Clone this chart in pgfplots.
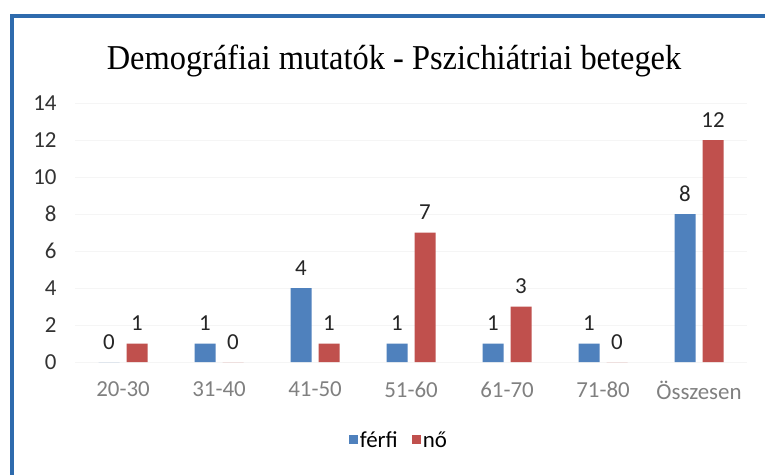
\documentclass[border=0pt]{standalone}
\usepackage{fontspec}
\setmainfont{Carlito}
\newfontfamily\titlefont{Liberation Serif}
\usepackage{graphicx}
\usepackage{pgfplots}
\pgfplotsset{compat=1.18}
\definecolor{barblue}{HTML}{4F81BD}
\definecolor{barred}{HTML}{C0504D}
\definecolor{frameblue}{HTML}{2E6BAD}
\begin{document}
\begin{tikzpicture}[x=1bp,y=1bp]
\path[use as bounding box] (0,0) rectangle (765,-475);
\fill[white] (0,0) rectangle (765,-475);
\draw[frameblue, line width=4bp] (12,-485) -- (12,-16) -- (775,-16);
\node[anchor=base, inner sep=0] at (394,-70) {\scalebox{0.93}[1]{\titlefont\fontsize{35}{40}\selectfont Demográfiai mutatók - Pszichiátriai betegek}};
\begin{axis}[
  at={(75bp,-362bp)}, anchor=south west,
  width=672bp, height=259bp, scale only axis,
  xmin=-0.5, xmax=6.5, ymin=0, ymax=14,
  ybar, bar width=21bp,
  axis line style={draw=none},
  major tick length=0pt,
  ytick={0,2,...,14},
  ymajorgrids, grid style={black!4},
  xtick={0,...,6},
  xticklabels={20-30,31-40,41-50,51-60,61-70,71-80,Összesen},
  /pgf/number format/assume math mode=true,
  tick label style={font=\fontsize{23}{26}\selectfont},
  xticklabel style={text=black!50, yshift=-16bp},
  yticklabel style={text=black!80, xshift=-15bp},
  nodes near coords,
  every node near coord/.append style={font=\fontsize{23}{26}\selectfont, text=black!85, yshift=9bp},
  legend style={at={(0.482,-0.301)}, anchor=center, draw=none, fill=none,
    legend columns=2, font=\fontsize{23}{26}\selectfont,
    /tikz/every odd column/.append style={column sep=0bp},
    /tikz/every even column/.append style={column sep=12bp}},
  legend image code/.code={\fill[#1] (0bp,-4bp) rectangle (9bp,5bp);},
]
\addplot[fill=barblue, draw=none, bar shift=-14bp] coordinates {(0,0) (1,1) (2,4) (3,1) (4,1) (5,1) (6,8)};
\addplot[fill=barred, draw=none, bar shift=14bp] coordinates {(0,1) (1,0) (2,1) (3,7) (4,3) (5,0) (6,12)};
\legend{férfi, nő}
\end{axis}
\end{tikzpicture}
\end{document}
